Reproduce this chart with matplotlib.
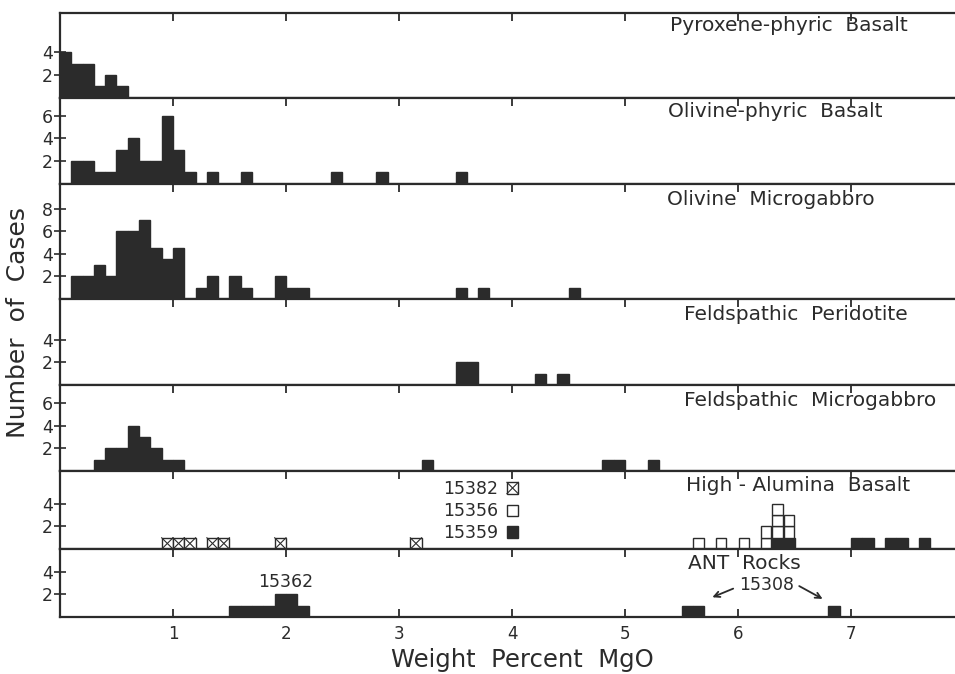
import matplotlib
matplotlib.use("Agg")
import matplotlib.pyplot as plt

# bin lower edges (wt% MgO, 0.1 wide bins) and counts for each rock group
pyx_bins = [0.0, 0.1, 0.2, 0.3, 0.4, 0.5]
pyx_counts = [4, 3, 3, 1, 2, 1]

olb_bins = [0.1, 0.2, 0.3, 0.4, 0.5, 0.6, 0.7, 0.8, 0.9, 1.0, 1.1, 1.3, 1.6, 2.4, 2.8, 3.5]
olb_counts = [2, 2, 1, 1, 3, 4, 2, 2, 6, 3, 1, 1, 1, 1, 1, 1]

olm_bins = [0.1, 0.2, 0.3, 0.4, 0.5, 0.6, 0.7, 0.8, 0.9, 1.0,
            1.2, 1.3, 1.5, 1.6, 1.9, 2.0, 2.1, 3.5, 3.7, 4.5]
olm_counts = [2, 2, 3, 2, 6, 6, 7, 4.5, 3.5, 4.5,
              1, 2, 2, 1, 2, 1, 1, 1, 1, 1]

fpd_bins = [3.5, 3.6, 4.2, 4.4]
fpd_counts = [2, 2, 1, 1]

fmg_bins = [0.3, 0.4, 0.5, 0.6, 0.7, 0.8, 0.9, 1.0, 3.2, 4.8, 4.9, 5.2]
fmg_counts = [1, 2, 2, 4, 3, 2, 1, 1, 1, 1, 1, 1]

# high-alumina basalt, by sample
hab_15382_bins = [0.9, 1.0, 1.1, 1.3, 1.4, 1.9, 3.1]
hab_15382_counts = [1, 1, 1, 1, 1, 1, 1]
hab_15356_bins = [5.6, 5.8, 6.0, 6.2, 6.3, 6.4]
hab_15356_counts = [1, 1, 1, 2, 3, 2]
hab_15359_bins = [6.3, 6.4, 7.0, 7.1, 7.3, 7.4, 7.6]
hab_15359_counts = [1, 1, 1, 1, 1, 1, 1]

ant_bins = [1.5, 1.6, 1.7, 1.8, 1.9, 2.0, 2.1, 5.5, 5.6, 6.8]
ant_counts = [1, 1, 1, 1, 2, 2, 1, 1, 1, 1]

titles = ["Pyroxene-phyric  Basalt", "Olivine-phyric  Basalt", "Olivine  Microgabbro",
          "Feldspathic  Peridotite", "Feldspathic  Microgabbro", "High - Alumina  Basalt",
          "ANT  Rocks"]
ymax = [7.5, 7.6, 10.2, 7.6, 7.6, 6.9, 6.0]
yticks = [[2, 4], [2, 4, 6], [2, 4, 6, 8], [2, 4], [2, 4, 6], [2, 4], [2, 4]]
title_pos = [(5.4, 6.35), (5.38, 6.4), (5.37, 8.8), (5.52, 6.2), (5.52, 6.2), (5.54, 5.65), (5.56, 4.7)]

BW = 0.1
dark = "#2b2b2b"

fig = plt.figure(figsize=(9.55, 6.74), dpi=100)
gs = fig.add_gridspec(7, 1, height_ratios=ymax, hspace=0,
                      left=0.0628, right=1.0, top=0.981, bottom=0.0846)
axes = [fig.add_subplot(gs[i]) for i in range(7)]

filled = [(pyx_bins, pyx_counts), (olb_bins, olb_counts), (olm_bins, olm_counts),
          (fpd_bins, fpd_counts), (fmg_bins, fmg_counts), None, (ant_bins, ant_counts)]

for i, ax in enumerate(axes):
    ax.set_xlim(0, 7.92)
    ax.set_ylim(0, ymax[i])
    ax.spines["right"].set_visible(False)
    for s in ["top", "bottom", "left"]:
        ax.spines[s].set_linewidth(1.6)
        ax.spines[s].set_color(dark)
    ax.set_xticks(range(1, 8))
    ax.tick_params(axis="x", top=True, bottom=(i == 6), direction="in",
                   length=6, width=1.3, color=dark, labelbottom=(i == 6),
                   labelsize=12, labelcolor=dark, pad=6)
    ax.set_yticks(yticks[i])
    ax.tick_params(axis="y", direction="inout", length=8, width=1.2, color=dark,
                   labelsize=12.5, labelcolor=dark, pad=1)
    ax.text(title_pos[i][0], title_pos[i][1], titles[i], fontsize=14.5,
            color=dark, va="center", ha="left")
    if filled[i] is not None:
        b, c = filled[i]
        ax.bar(b, c, width=BW, align="edge", color=dark, edgecolor=dark, linewidth=1.0)

# high-alumina basalt panel
ax = axes[5]
ax.bar(hab_15359_bins, hab_15359_counts, width=BW, align="edge",
       color=dark, edgecolor=dark, linewidth=1.0)
for x, n in zip(hab_15382_bins, hab_15382_counts):
    for k in range(n):
        ax.bar(x, 1, bottom=k, width=BW, align="edge", facecolor="white",
               edgecolor=dark, linewidth=1.0)
        ax.plot([x, x + BW], [k, k + 1], color=dark, lw=0.8)
        ax.plot([x, x + BW], [k + 1, k], color=dark, lw=0.8)
base = dict(zip(hab_15359_bins, hab_15359_counts))
for x, n in zip(hab_15356_bins, hab_15356_counts):
    b0 = base.get(x, 0)
    for k in range(n):
        ax.bar(x + 0.005, 1, bottom=b0 + k, width=BW - 0.01, align="edge",
               facecolor="white", edgecolor=dark, linewidth=1.0)

# sample key
key_labels = ["15382", "15356", "15359"]
key_y = [4.9, 2.9, 1.0]
for lab, y in zip(key_labels, key_y):
    ax.text(3.88, y + 0.45, lab, fontsize=12.5, color=dark, ha="right", va="center")
    fc = dark if lab == "15359" else "white"
    ax.bar(3.955, 1, bottom=y, width=BW, align="edge", facecolor=fc,
           edgecolor=dark, linewidth=1.0)
    if lab == "15382":
        ax.plot([3.955, 4.055], [y, y + 1], color=dark, lw=0.8)
        ax.plot([3.955, 4.055], [y + 1, y], color=dark, lw=0.8)

# ANT rocks annotations
ax = axes[6]
ax.text(2.0, 3.1, "15362", fontsize=12.5, color=dark, ha="center", va="center")
ax.text(6.25, 2.8, "15308", fontsize=12.5, color=dark, ha="center", va="center")
ax.annotate("", xy=(5.75, 1.65), xytext=(5.98, 2.6),
            arrowprops=dict(arrowstyle="->", color=dark, lw=1.3))
ax.annotate("", xy=(6.77, 1.48), xytext=(6.52, 2.85),
            arrowprops=dict(arrowstyle="->", color=dark, lw=1.3))

fig.text(0.019, 0.522, "Number  of  Cases", rotation=90, fontsize=18,
         color=dark, ha="center", va="center")
fig.text(0.547, 0.021, "Weight  Percent  MgO", fontsize=17.5,
         color=dark, ha="center", va="center")

fig.savefig("out.png", dpi=100, facecolor="white")
